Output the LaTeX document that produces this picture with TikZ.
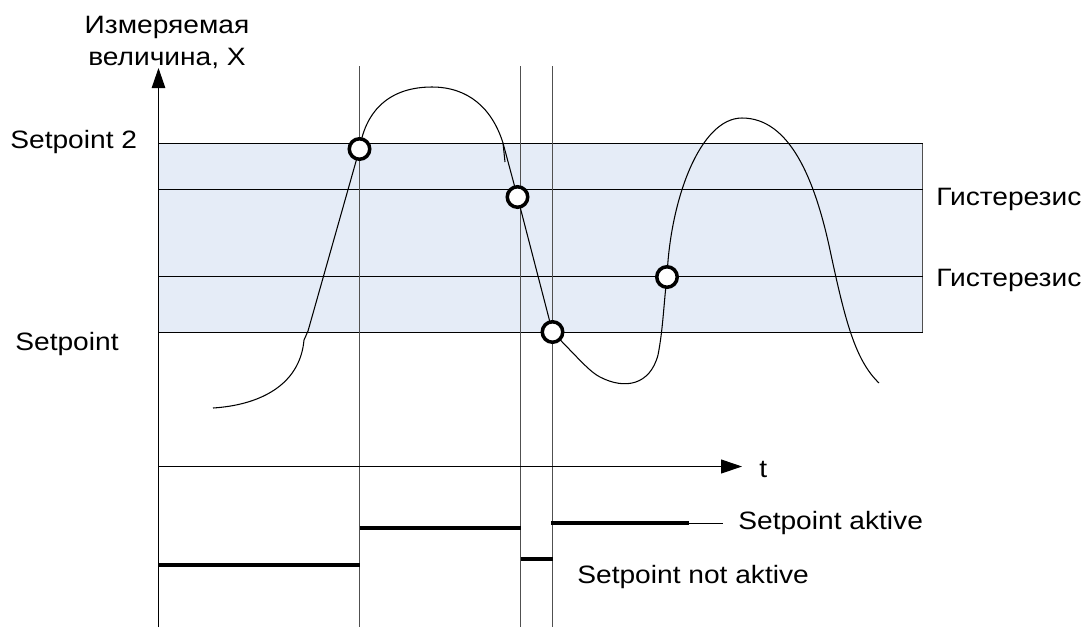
\documentclass[tikz,border=0pt]{standalone}
\usepackage{fontspec}
\setmainfont{Liberation Sans}[FakeStretch=1.12]
\usetikzlibrary{arrows.meta}
\definecolor{bandfill}{HTML}{E5ECF7}
\definecolor{guide}{HTML}{505050}

\begin{document}
\begin{tikzpicture}[
    x=0.02cm, y=-0.02cm,
    lbl/.style={anchor=base west, inner sep=0pt, font=\fontsize{14.3}{18.2}\selectfont},
    axis/.style={-{Triangle[length=0.4cm, width=0.27cm]}, line width=0.6pt},
    vline/.style={guide, line width=0.6pt},
    level/.style={line width=0.6pt},
    marker/.style={circle, draw, fill=white, line width=2pt, minimum size=0.41cm, inner sep=0pt},
    state/.style={line width=2pt}
]
\useasboundingbox (0,0) rectangle (1089,627);

% band between the setpoints
\filldraw[fill=bandfill, draw=guide, line width=0.6pt] (158.5,143.5) rectangle (922.5,332.5);
\foreach \yy in {143.5,189.5,276.5,332.5}
  \draw[level] (158.5,\yy) -- (922.5,\yy);

% switching instants
\foreach \xx in {359.5,520.5,552.5}
  \draw[vline] (\xx,66) -- (\xx,627);

% axes
\coordinate (o) at (158.5,627);
\coordinate (ytip) at (158.5,68);
\coordinate (t0) at (158.5,466.5);
\coordinate (ttip) at (742,466.5);
\draw[axis] (o) -- (ytip);
\draw[axis, -{Triangle[length=0.42cm, width=0.28cm]}] (t0) -- (ttip);

% labels
\node[lbl, anchor=center, align=center] (ylab) at (167,42) {Измеряемая\\величина, X};
\node[lbl] (sp2) at (10,148) {Setpoint 2};
\node[lbl] (sp) at (15,350) {Setpoint};
\node[lbl] (hys1) at (936,205) {Гистерезис};
\node[lbl] (hys2) at (936,286) {Гистерезис};
\node[lbl] (tlab) at (759,477) {t};
\node[lbl] (act) at (738,529) {Setpoint aktive};
\node[lbl] (nact) at (577,583) {Setpoint not aktive};

% relay state
\draw[state] (158,565) -- (359.5,565);
\draw[state] (359.5,528) -- (520.5,528);
\draw[state] (520.5,559) -- (552.5,559);
\draw[state] (551,523) -- (689,523);
\draw[level] (689,523.5) -- (723,523.5);

% measured value
\coordinate (c1) at (359.5,149);
\coordinate (c2) at (517.5,197);
\coordinate (c3) at (552.5,332);
\coordinate (c4) at (667,277);
\draw[level] (213,408) .. controls (260,405) and (300,385) .. (304,340) -- (308,331) -- (c1)
  .. controls (366,108) and (392,87) .. (432,87) .. controls (468,87) and (492,108) .. (503,143)
  -- (c2) -- (c3)
  .. controls (580,360) and (590,372) .. (600,377) .. controls (625,390) and (650,385) .. (658,355)
  .. controls (663,330) and (664,300) .. (c4)
  .. controls (670,200) and (700,118) .. (742,118) .. controls (790,118) and (815,180) .. (830,250)
  .. controls (845,320) and (855,360) .. (879,383);
\draw[level] (503,143) -- (505,162);

\foreach \c in {c1,c2,c3,c4}
  \node[marker] (m-\c) at (\c) {};
\end{tikzpicture}
\end{document}
